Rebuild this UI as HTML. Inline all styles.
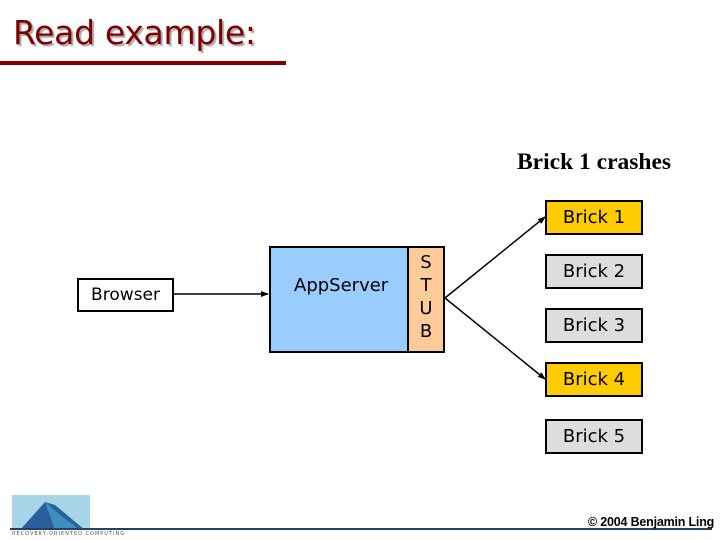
<!DOCTYPE html>
<html><head><style>
body{margin:0;width:720px;height:540px;background:#fff;position:relative;overflow:hidden;font-family:"DejaVu Sans","Liberation Sans",sans-serif}
.a{position:absolute;box-sizing:border-box}
.b{border:2px solid #000;display:flex;align-items:center;justify-content:center;font-size:18px}
</style></head><body>
<div class="a" style="left:13px;top:13px;font-size:33px;color:#800000;text-shadow:2px 2px 1px #aaa;letter-spacing:-0.3px">Read example:</div>
<div class="a" style="left:0;top:61px;width:286px;height:4px;background:#800000"></div>
<div class="a" style="left:517px;top:149px;font-family:'Liberation Serif',serif;font-weight:bold;font-size:23.5px">Brick 1 crashes</div>
<div class="a b" style="left:77px;top:278px;width:97px;height:34px;font-size:17px">Browser</div>
<div class="a" style="left:269px;top:246px;width:176px;height:107px;border:2px solid #000;background:#99ccff"></div>
<div class="a" style="left:407px;top:246px;width:38px;height:107px;border:2px solid #000;background:#ffcc99;font-size:18px;text-align:center;line-height:23px;padding-top:3px">S<br>T<br>U<br>B</div>
<div class="a" style="left:294px;top:275px;font-size:18px">AppServer</div>
<div class="a b" style="left:545px;top:200px;width:98px;height:35px;background:#ffcc00">Brick 1</div>
<div class="a b" style="left:545px;top:254px;width:98px;height:35px;background:#ddd">Brick 2</div>
<div class="a b" style="left:545px;top:308px;width:98px;height:35px;background:#ddd">Brick 3</div>
<div class="a b" style="left:545px;top:362px;width:98px;height:35px;background:#ffcc00">Brick 4</div>
<div class="a b" style="left:545px;top:419px;width:98px;height:35px;background:#ddd">Brick 5</div>
<svg class="a" style="left:0;top:0" width="720" height="540">
<defs><marker id="m" markerWidth="8" markerHeight="8" refX="7" refY="4" orient="auto" markerUnits="userSpaceOnUse"><path d="M0,1 L8,4 L0,7z"/></marker></defs>
<g stroke="#000" stroke-width="1.5" fill="none">
<line x1="174" y1="294" x2="268" y2="294" marker-end="url(#m)"/>
<line x1="445" y1="298" x2="545" y2="217" marker-end="url(#m)"/>
<line x1="445" y1="298" x2="545" y2="379" marker-end="url(#m)"/>
</g>
<rect x="12" y="495" width="78" height="35" fill="#a8d4e8"/>
<polygon points="20,530 45,502 55,505 85,530" fill="#2a5f9e"/>
<polygon points="45,502 60,515 80,530 55,530" fill="#3e8fbe"/>
<rect x="10" y="528" width="702" height="2" fill="#2b3d6e"/>
</svg>
<div class="a" style="left:12px;top:531px;font-size:5px;color:#555;letter-spacing:1px">RECOVERY-ORIENTED COMPUTING</div>
<div class="a" style="left:588px;top:515px;font-family:'Liberation Sans',sans-serif;font-size:12.5px;font-weight:bold;letter-spacing:-0.2px">© 2004 Benjamin Ling</div>
</body></html>
